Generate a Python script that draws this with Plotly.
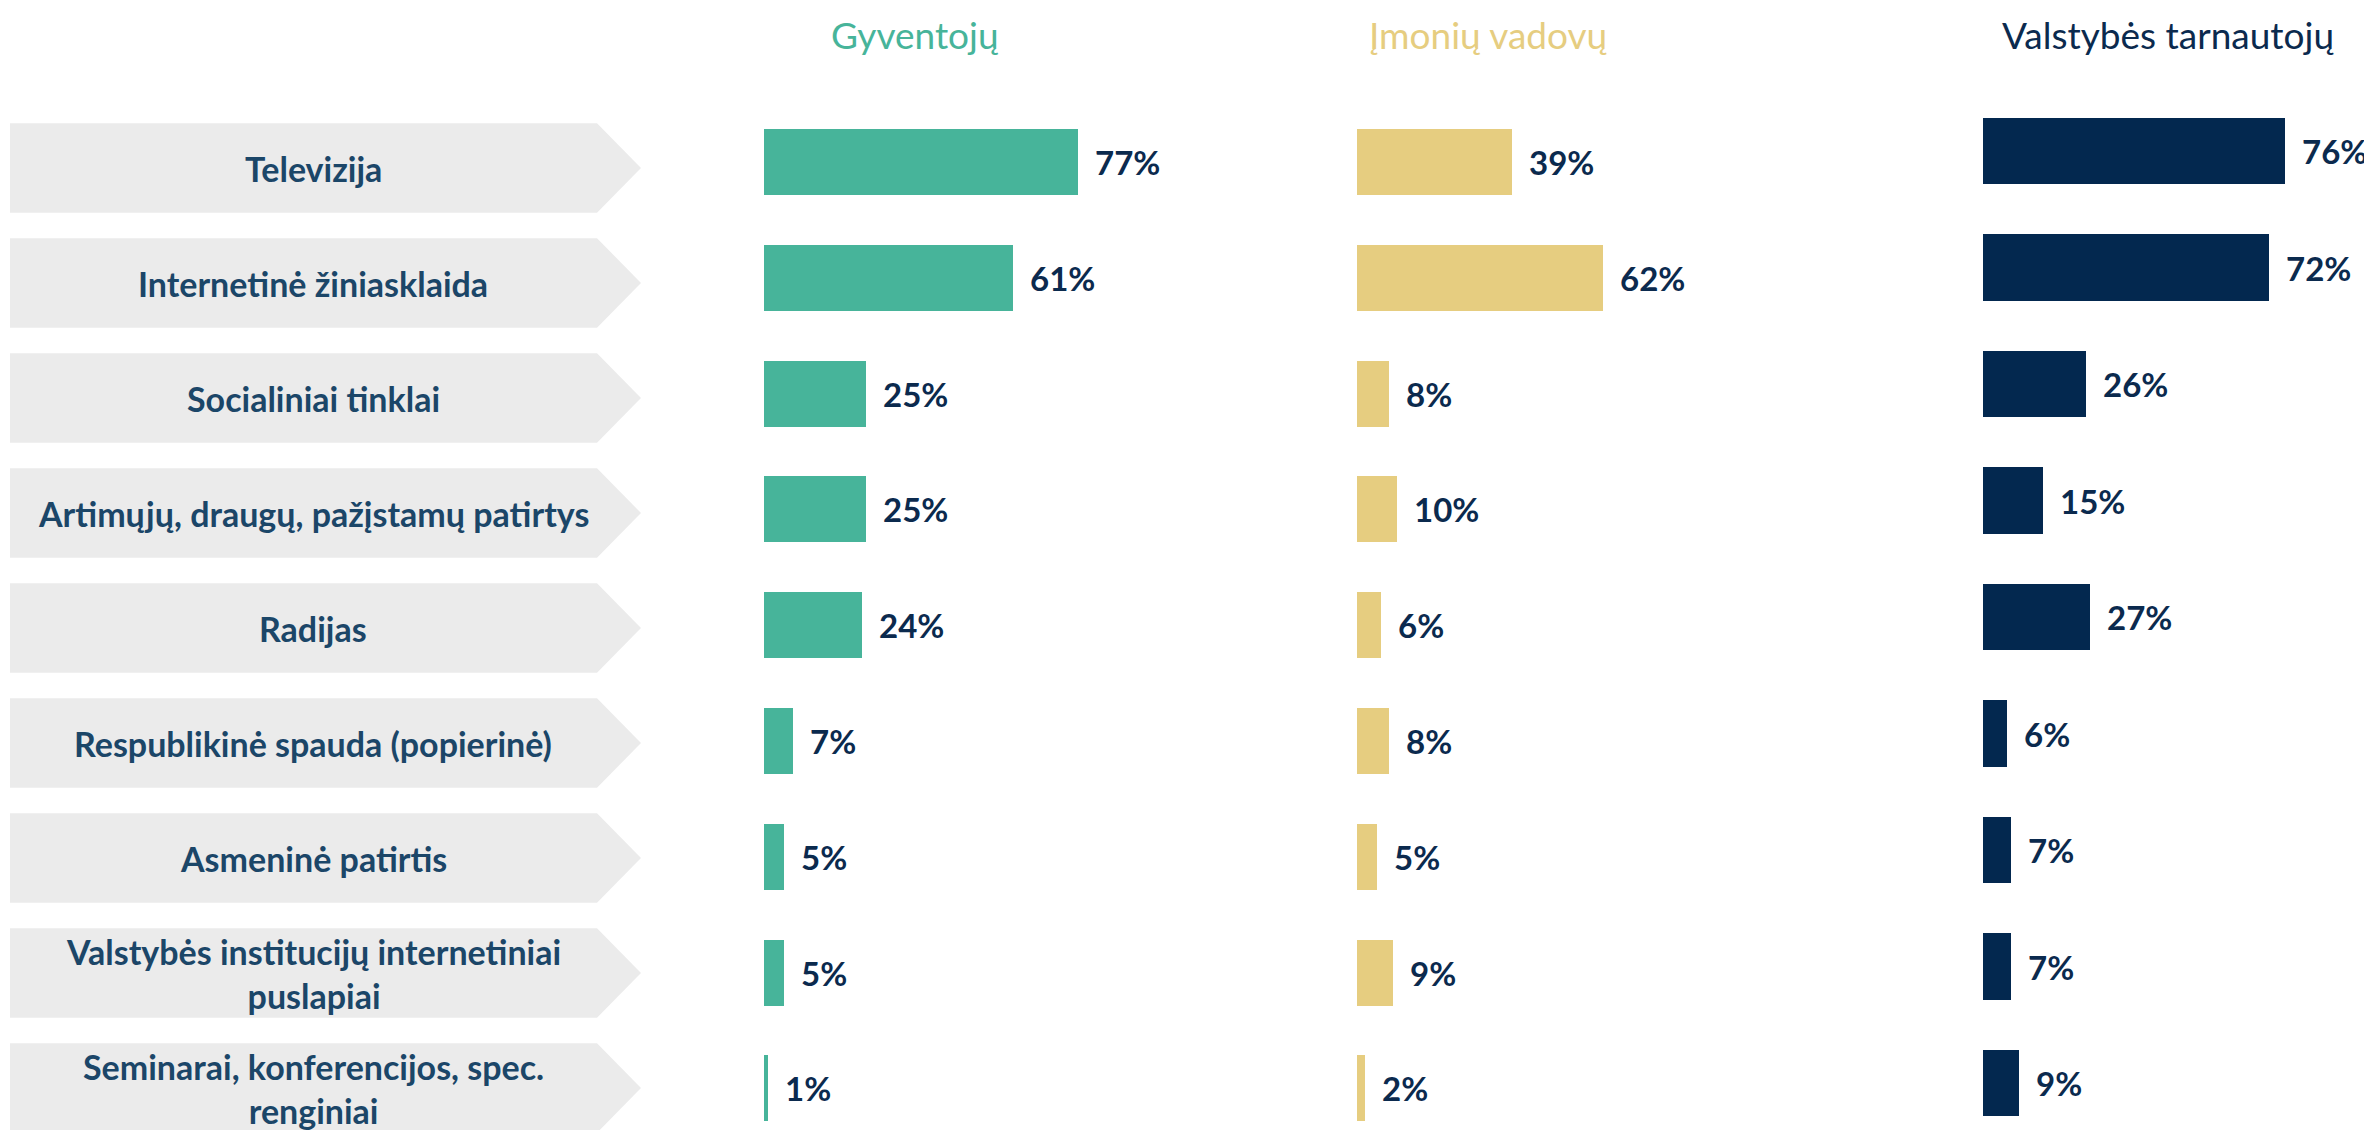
import plotly.graph_objects as go

# ---- data ----
categories = [
    "Televizija",
    "Internetinė žiniasklaida",
    "Socialiniai tinklai",
    "Artimųjų, draugų, pažįstamų patirtys",
    "Radijas",
    "Respublikinė spauda (popierinė)",
    "Asmeninė patirtis",
    "Valstybės institucijų internetiniai<br>puslapiai",
    "Seminarai, konferencijos, spec.<br>renginiai",
]
group_titles = ["Gyventojų", "Įmonių vadovų", "Valstybės tarnautojų"]
gyventoju = [77, 61, 25, 25, 24, 7, 5, 5, 1]
imoniu_vadovu = [39, 62, 8, 10, 6, 8, 5, 9, 2]
valstybes_tarnautoju = [76, 72, 26, 15, 27, 6, 7, 7, 9]

# ---- styles ----
OFF = 8                      # default page body margin
W, H = 2372 - OFF, 1130 - OFF
GREEN = "#47b49a"
GOLD = "#e6cd80"
NAVY = "#03284f"
LABEL_NAVY = "#0b2a4e"
CAT_TEXT = "#1b4668"
ARROW_FILL = "#ebebeb"
FONT = "Lato"


def px(v):
    return (v - OFF) / W


def py(v):
    return v - OFF


rows = list(range(len(categories)))

fig = go.Figure()

series = [
    (gyventoju, GREEN, "x", "y"),
    (imoniu_vadovu, GOLD, "x2", "y"),
    (valstybes_tarnautoju, NAVY, "x3", "y3"),
]
for vals, color, xa, ya in series:
    fig.add_trace(go.Bar(
        x=vals, y=rows, orientation="h", xaxis=xa, yaxis=ya,
        marker=dict(color=color, line=dict(width=0)),
        width=0.57, showlegend=False, hoverinfo="skip",
    ))
    for v, r in zip(vals, rows):
        fig.add_annotation(
            x=v, y=r, xref=xa, yref=ya, text=f"<b>{v}%</b>",
            showarrow=False, xanchor="left", yanchor="middle", xshift=15,
            font=dict(family=FONT, size=33, color=LABEL_NAVY),
        )

# invisible helper trace for the label column axis
fig.add_trace(go.Scatter(x=[0], y=[0], xaxis="x4", yaxis="y4", mode="markers",
                         marker=dict(opacity=0), showlegend=False, hoverinfo="skip"))

# arrow-shaped category boxes
x_left, x_rect, x_tip = px(10), px(597), px(641)
half = 0.39
for r, cat in zip(rows, categories):
    path = (f"M {x_left},{r - half} L {x_rect},{r - half} L {x_tip},{r} "
            f"L {x_rect},{r + half} L {x_left},{r + half} Z")
    fig.add_shape(type="path", path=path, xref="paper", yref="y4",
                  fillcolor=ARROW_FILL, line=dict(width=0), layer="below")
    fig.add_annotation(
        x=px(313), y=r, xref="paper", yref="y4", text=f"<b>{cat}</b>",
        showarrow=False, xanchor="center", yanchor="middle", align="center",
        font=dict(family=FONT, size=34, color=CAT_TEXT),
    )

# group headers
header_pos = [(915, 35, GREEN), (1488, 35, GOLD), (2168, 34, LABEL_NAVY)]
for title, (cx, cy, col) in zip(group_titles, header_pos):
    fig.add_annotation(
        x=px(cx), y=1 - py(cy) / H, xref="paper", yref="paper", text=title,
        showarrow=False, xanchor="center", yanchor="middle",
        font=dict(family=FONT, size=37, color=col),
    )

hidden = dict(visible=False, showgrid=False, zeroline=False, fixedrange=True)


def yrange(center0, pitch):
    c = py(center0)
    return [(H - c) / pitch, -c / pitch]


fig.update_layout(
    width=W, height=H, autosize=False,
    margin=dict(l=0, r=0, t=0, b=0, pad=0),
    paper_bgcolor="white", plot_bgcolor="rgba(0,0,0,0)",
    bargap=0,
    xaxis=dict(domain=[px(764), px(764 + 408)], range=[0, 100], **hidden),
    xaxis2=dict(domain=[px(1357), px(1357 + 397)], range=[0, 100], anchor="y", **hidden),
    xaxis3=dict(domain=[px(1983), px(1983 + 357.3)], range=[0, 90], anchor="y3", **hidden),
    xaxis4=dict(domain=[0, 0.27], range=[0, 1], anchor="y4", **hidden),
    yaxis=dict(domain=[0, 1], range=yrange(162, 115.8), anchor="x", **hidden),
    yaxis3=dict(domain=[0, 1], range=yrange(151, 116.5), anchor="x3", **hidden),
    yaxis4=dict(domain=[0, 1], range=yrange(168, 115), anchor="x4", **hidden),
)

fig.write_html("out.html")
